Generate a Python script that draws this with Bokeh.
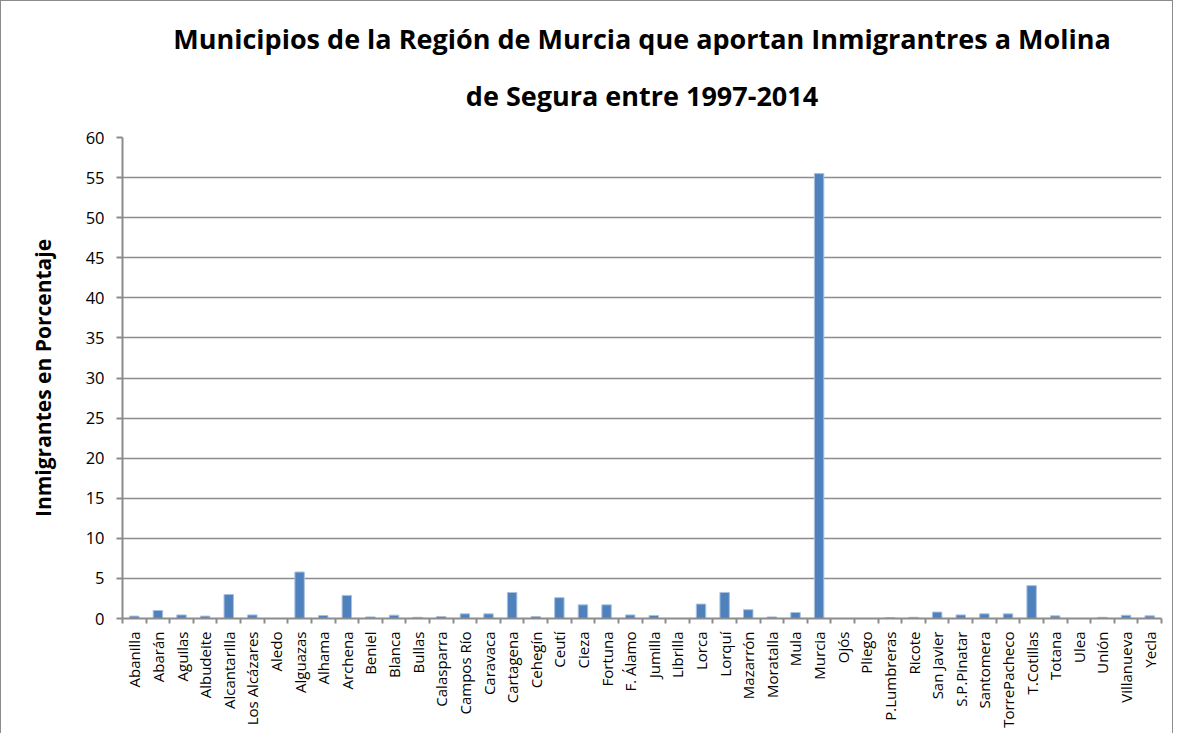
import math
from bokeh.plotting import figure
from bokeh.models import FixedTicker, Title, Range1d, ColumnDataSource
from bokeh.embed import file_html
from bokeh.resources import INLINE

municipios = ["Abanilla", "Abarán", "Aguilas", "Albudeite", "Alcantarilla", "Los Alcázares",
              "Aledo", "Alguazas", "Alhama", "Archena", "Beniel", "Blanca", "Bullas",
              "Calasparra", "Campos Río", "Caravaca", "Cartagena", "Cehegín", "Ceutí",
              "Cieza", "Fortuna", "F. Álamo", "Jumilla", "Librilla", "Lorca", "Lorquí",
              "Mazarrón", "Moratalla", "Mula", "Murcia", "Ojós", "Pliego", "P.Lumbreras",
              "Ricote", "San Javier", "S.P.Pinatar", "Santomera", "TorrePacheco",
              "T.Cotillas", "Totana", "Ulea", "Unión", "Villanueva", "Yecla"]
porcentaje = [0.3, 1.0, 0.45, 0.3, 3.0, 0.45, 0.0, 5.8, 0.38, 2.88, 0.2, 0.42, 0.15,
              0.25, 0.58, 0.58, 3.25, 0.25, 2.6, 1.7, 1.7, 0.45, 0.38, 0.0, 1.8, 3.25,
              1.1, 0.2, 0.75, 55.5, 0.0, 0.0, 0.1, 0.15, 0.8, 0.45, 0.58, 0.58,
              4.1, 0.33, 0.0, 0.15, 0.4, 0.33]
y_ticks = [0, 5, 10, 15, 20, 25, 30, 35, 40, 45, 50, 55, 60]

n = len(municipios)
xs = [i + 0.5 for i in range(n)]
src = ColumnDataSource(dict(x=xs, y=porcentaje))

p = figure(width=1173, height=733, output_backend="svg", toolbar_location=None,
           x_range=Range1d(0, n), y_range=Range1d(0, 60),
           min_border_left=121, min_border_right=13, min_border_top=136, min_border_bottom=116)
p.styles = {"border-left": "1px solid #8c8c8c", "border-top": "1px solid #8c8c8c",
            "border-right": "1px solid #8c8c8c", "box-sizing": "border-box"}

p.vbar(x="x", top="y", width=0.4, source=src, fill_color="#4f81bd",
       line_color="#a9c1df", line_width=1)

# titles
font = "Open Sans"
t2 = Title(text="de Segura entre 1997-2014", align="center", text_font=font,
           text_font_size="27px", text_font_style="bold", text_color="#000000", standoff=48)
t1 = Title(text="Municipios de la Región de Murcia que aportan Inmigrantres a Molina",
           align="center", text_font=font, text_font_size="27px", text_font_style="bold",
           text_color="#000000", standoff=-12)
p.add_layout(t2, "above")
p.add_layout(t1, "above")

# x axis
p.xaxis.ticker = FixedTicker(ticks=xs, minor_ticks=list(range(n + 1)))
p.xaxis.major_label_overrides = {x: m for x, m in zip(xs, municipios)}
p.xaxis.major_label_orientation = math.pi / 2
p.xaxis.major_label_text_font = font
p.xaxis.major_label_text_font_size = "15px"
p.xaxis.major_label_text_color = "#000000"
p.xaxis.major_label_standoff = 8
p.xaxis.major_tick_out = 0
p.xaxis.major_tick_in = 0
p.xaxis.minor_tick_out = 5
p.xaxis.minor_tick_in = 0
p.xaxis.axis_line_color = "#8c8c8c"
p.xaxis.axis_line_width = 2
p.xaxis.minor_tick_line_color = "#8c8c8c"
p.xaxis.minor_tick_line_width = 2

# y axis
p.yaxis.ticker = FixedTicker(ticks=y_ticks)
p.yaxis.axis_label = "Inmigrantes en Porcentaje"
p.yaxis.axis_label_text_font = font
p.yaxis.axis_label_text_font_size = "21px"
p.yaxis.axis_label_text_font_style = "bold"
p.yaxis.axis_label_text_color = "#000000"
p.yaxis.axis_label_standoff = 26
p.yaxis.major_label_text_font = font
p.yaxis.major_label_text_font_size = "16.5px"
p.yaxis.major_label_text_color = "#000000"
p.yaxis.major_label_standoff = 12
p.yaxis.major_tick_out = 6
p.yaxis.major_tick_in = 0
p.yaxis.minor_tick_line_color = None
p.yaxis.axis_line_color = "#8c8c8c"
p.yaxis.axis_line_width = 2
p.yaxis.major_tick_line_color = "#8c8c8c"
p.yaxis.major_tick_line_width = 2

p.xgrid.grid_line_color = None
p.ygrid.grid_line_color = "#8c8c8c"
p.ygrid.grid_line_width = 1.5
p.outline_line_color = None

open("out.html", "w").write(file_html(p, INLINE))
